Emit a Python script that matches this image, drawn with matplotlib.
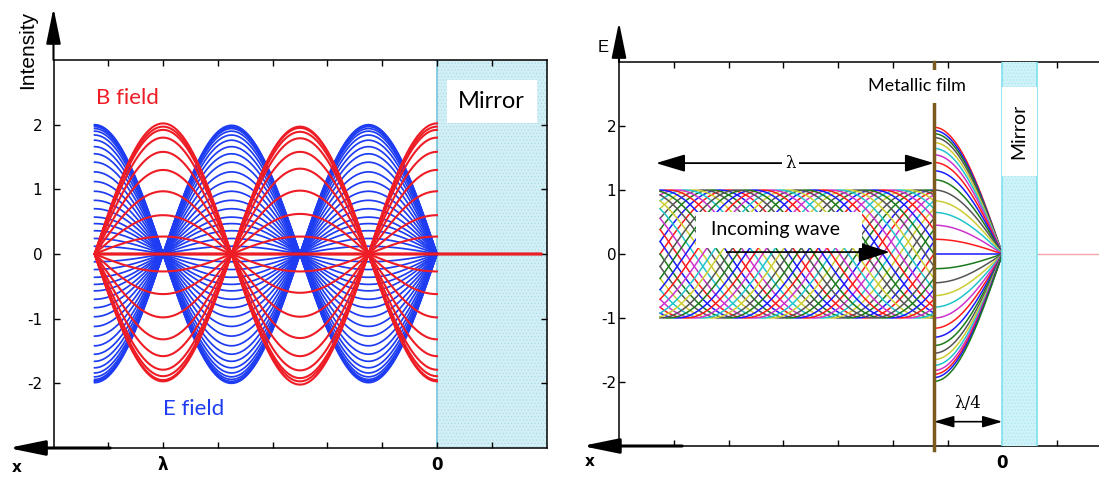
import numpy as np
import matplotlib.pyplot as plt
from matplotlib.patches import Rectangle

plt.rcParams['hatch.linewidth'] = 0.4

# ---- left panel: standing wave in front of a mirror (x in units of lambda)
e_levels = [2.0, 1.99, 1.97, 1.94, 1.90, 1.84, 1.76, 1.66, 1.55, 1.42, 1.27,
            1.12, 0.97, 0.83, 0.70, 0.57, 0.47, 0.36, 0.24, 0.12, 0.0,
            -0.12, -0.24, -0.36, -0.47, -0.57, -0.70, -0.83, -0.97, -1.12,
            -1.27, -1.42, -1.55, -1.66, -1.76, -1.84, -1.90, -1.94, -1.97,
            -1.99, -1.96]
b_levels = [2.02, 1.97, 1.92, 1.80, 1.58, 1.30, 0.97, 0.60, 0.27, 0.0,
            -0.27, -0.62, -0.98, -1.32, -1.58, -1.79, -1.89, -1.95, -1.97]
wave_span = (0.0, 1.25)
mirror_end = -0.38

# ---- right panel: incoming wave, metallic film at lambda/4, mirror
incoming_count = 32
incoming_span = (0.25, 1.25)
film_x = 0.25
film_levels = [1.98, 1.93, 1.88, 1.82, 1.74, 1.65, 1.55, 1.43, 1.30, 1.16,
               1.00, 0.83, 0.65, 0.45, 0.23, 0.0, -0.23, -0.45, -0.65, -0.83,
               -1.0, -1.16, -1.30, -1.43, -1.55, -1.65, -1.74, -1.82, -1.88,
               -1.93, -1.99]
line_colors = ['#ff1a1a', '#1a1aff', '#1d7a1d', '#555555', '#cccc33',
               '#22c4cc', '#cc33cc']

x_ticks = [1.2, 1.0, 0.8, 0.6, 0.4, 0.2, 0.0, -0.2]
left_xlabels = ['', 'λ', '', '', '', '', '0', '']
right_xlabels = ['', '', '', '', '', '', '0', '']
y_ticks = [-2, -1, 0, 1, 2]

BLUE = '#1e3cf2'
RED = '#ee1c25'
W, H = 1099, 479

fig = plt.figure(figsize=(W / 100, H / 100), dpi=100)


def px(x, y):
    return x / W, 1 - y / H


def arrow(ax, start, end, lw=1.5, style='-|>,head_length=2.2,head_width=0.45',
          coords='axes fraction', ms=10):
    ax.annotate('', xy=end, xytext=start, xycoords=coords, textcoords=coords,
                arrowprops=dict(arrowstyle=style, color='k', lw=lw,
                                mutation_scale=ms, shrinkA=0, shrinkB=0),
                annotation_clip=False)


def style_axes(ax, xlabels, ypad):
    ax.set_xlim(1.4, -0.4)
    ax.set_ylim(-3, 3)
    ax.set_xticks(x_ticks)
    ax.set_xticklabels(xlabels, fontweight='bold', fontsize=12)
    ax.set_yticks(y_ticks)
    ax.set_yticklabels([str(v) for v in y_ticks], fontsize=11)
    ax.tick_params(direction='in', top=True, right=True, length=4, width=1)
    ax.tick_params(axis='y', pad=ypad)
    ax.tick_params(axis='x', pad=6)
    for s in ax.spines.values():
        s.set_linewidth(1.1)


# ================= left panel =================
ax1 = fig.add_axes([53.5 / W, (H - 448) / H, 493 / W, 388 / H])
style_axes(ax1, left_xlabels, ypad=8)

ax1.axvspan(0, -0.4, facecolor='#d2eff5', edgecolor='#a6d9e6', hatch='.....',
            lw=0, zorder=0)
ax1.axvline(0, color='#76c2de', lw=1.2, zorder=0.5)

xs = np.linspace(wave_span[0], wave_span[1], 126)
for a in e_levels:
    ax1.plot(xs, a * np.sin(2 * np.pi * xs), color=BLUE, lw=1.25, zorder=2)
for a in b_levels:
    xb = np.concatenate([xs, [0.0, mirror_end]])
    yb = np.concatenate([a * np.cos(2 * np.pi * xs), [0.0, 0.0]])
    ax1.plot(xb, yb, color=RED, lw=1.5, zorder=3)

ax1.add_patch(Rectangle((-0.035, 2.03), -0.33, 0.66, facecolor='white',
                        edgecolor='none', zorder=4))
ax1.text(-0.2, 2.36, 'Mirror', fontsize=17, family='Lato', ha='center',
         va='center', zorder=5)
ax1.text(1.13, 2.42, 'B field', color=RED, fontsize=16, family='Lato',
         ha='center', va='center')
ax1.text(0.89, -2.40, 'E field', color=BLUE, fontsize=16, family='Lato',
         ha='center', va='center')

arrow(ax1, (0, 1.0), (0, 1.134))
arrow(ax1, (0.115, 0), (-0.092, 0), lw=2.2)
fig.text(*px(28, 50), 'Intensity', rotation=90, ha='center', va='center',
         fontsize=15, family='Liberation Sans')
fig.text(*px(17, 467), 'x', ha='center', va='center', fontsize=11,
         fontweight='bold')

# ================= right panel =================
ax2 = fig.add_axes([619 / W, (H - 446) / H, 493 / W, 384 / H])
style_axes(ax2, right_xlabels, ypad=2)

# mirror band with white label window
ax2.axvspan(0, -0.125, facecolor='#cdf2f8', edgecolor='#a8e6f0', hatch='.....',
            lw=0, zorder=2.6)
ax2.axvline(0, color='#7ee0ef', lw=1.2, zorder=2.7)
ax2.axvline(-0.125, color='#7ee0ef', lw=1.2, zorder=2.7)
ax2.add_patch(Rectangle((0, 1.22), -0.125, 1.39, facecolor='white',
                        edgecolor='none', zorder=2.8))
ax2.text(-0.058, 1.92, 'Mirror', rotation=90, fontsize=14, family='Lato',
         ha='center', va='center', zorder=3)
ax2.plot([-0.125, -0.4], [0, 0], color='#f2a5ad', lw=1, zorder=2)

# incoming travelling wave
xi = np.linspace(incoming_span[0], incoming_span[1], 161)
for k in range(incoming_count):
    ax2.plot(xi, np.cos(2 * np.pi * (xi - k / incoming_count)),
             color=line_colors[k % len(line_colors)], lw=1.1, zorder=2)

# field between film and mirror
xf = np.linspace(0, film_x, 41)
for k, a in enumerate(film_levels):
    ax2.plot(xf, a * np.sin(2 * np.pi * xf),
             color=line_colors[k % len(line_colors)], lw=1.1, zorder=2)

# metallic film
ax2.plot([film_x, film_x], [-3.06, 3.0], color='#7b5a1f', lw=2.5, zorder=3,
         clip_on=False)
ax2.add_patch(Rectangle((0.46, 2.36), -0.30, 0.52, facecolor='white',
                        edgecolor='none', zorder=3.5))
ax2.text(0.314, 2.62, 'Metallic film', fontsize=13, family='Lato',
         ha='center', va='center', zorder=4)

# "Incoming wave" label and arrow
ax2.add_patch(Rectangle((1.118, 0.094), -0.607, 0.562, facecolor='white',
                        edgecolor='none', zorder=3.5))
ax2.text(0.828, 0.375, 'Incoming wave', fontsize=14, family='Lato',
         ha='center', va='center', zorder=4)
arrow(ax2, (1.007, 0.03), (0.412, 0.03), lw=1.2, coords='data',
      style='-|>,head_length=1.4,head_width=0.45', ms=14)

# lambda and lambda/4 dimension arrows
arrow(ax2, (1.265, 1.42), (film_x, 1.42), lw=1.3, coords='data',
      style='<|-|>,head_length=1.5,head_width=0.45', ms=12)
ax2.text(0.774, 1.42, 'λ', fontsize=12, family='DejaVu Serif', ha='center',
         va='center', zorder=5,
         bbox=dict(facecolor='white', edgecolor='none', pad=2))
arrow(ax2, (film_x, -2.62), (0.0, -2.62), lw=1.2, coords='data',
      style='<|-|>,head_length=1.2,head_width=0.35', ms=10)
ax2.text(0.128, -2.34, 'λ/4', fontsize=12, family='DejaVu Serif',
         ha='center', va='center')

arrow(ax2, (0, 1.0), (0, 1.104))
arrow(ax2, (0.128, 0), (-0.075, 0), lw=2.2)
fig.text(*px(603, 48), 'E', ha='center', va='center', fontsize=12,
         family='Liberation Sans')
fig.text(*px(590, 461), 'x', ha='center', va='center', fontsize=11,
         fontweight='bold')

fig.savefig('out.png', dpi=100)
